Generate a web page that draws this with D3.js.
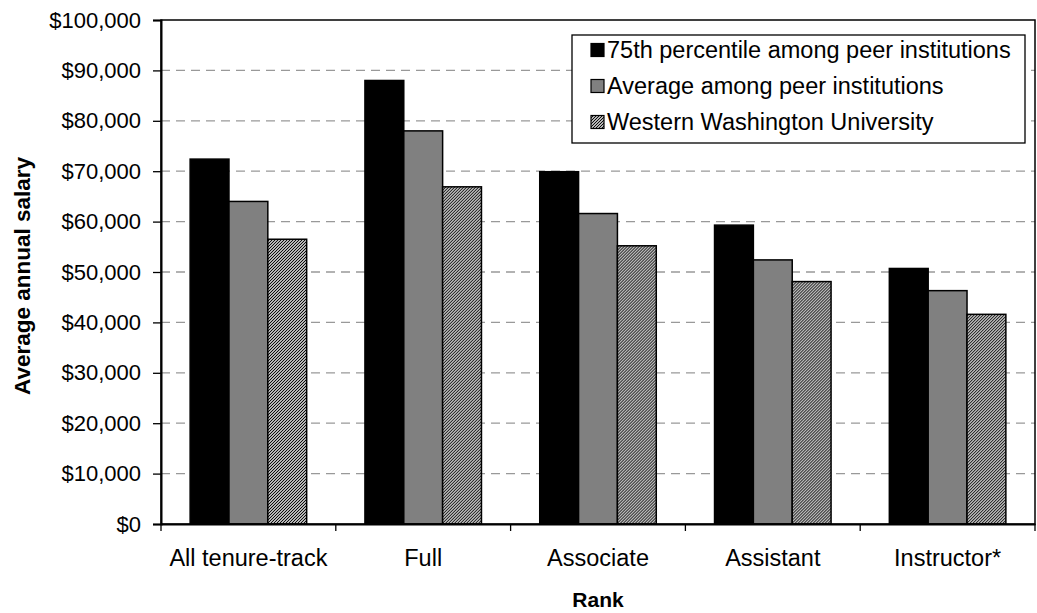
<!DOCTYPE html>
<html>
<head>
<meta charset="utf-8">
<script src="https://cdn.jsdelivr.net/npm/d3@7"></script>
<style>
  html, body { margin: 0; padding: 0; background: #fff; }
  svg { display: block; font-family: "Liberation Sans", Arial, sans-serif; }
</style>
</head>
<body>
<svg id="chart" width="1037" height="613"></svg>
<script>
// Faculty salary comparison by rank
const categories = ["All tenure-track", "Full", "Associate", "Assistant", "Instructor*"];
const seriesNames = [
  "75th percentile among peer institutions",
  "Average among peer institutions",
  "Western Washington University"
];
const pct75Values   = [72400, 88000, 69900, 59300, 50700];
const averageValues = [64000, 78000, 61600, 52400, 46300];
const wwuValues     = [56500, 66900, 55200, 48100, 41600];
const yTicks = [0, 10000, 20000, 30000, 40000, 50000, 60000, 70000, 80000, 90000, 100000];

const seriesValues = [pct75Values, averageValues, wwuValues];
const fills = ["#000000", "#808080", "url(#hatch)"];

const svg = d3.select("#chart");
const plot = { left: 161, right: 1035, top: 20, bottom: 524 };

// fine diagonal hatch used for the WWU series
const defs = svg.append("defs");
const pat = defs.append("pattern")
  .attr("id", "hatch")
  .attr("patternUnits", "userSpaceOnUse")
  .attr("width", 3).attr("height", 3);
pat.append("rect").attr("width", 3).attr("height", 3).attr("fill", "#fff");
pat.append("path")
  .attr("d", "M-1,1 l2,-2 M0,3 l3,-3 M2,4 l2,-2")
  .attr("stroke", "#000").attr("stroke-width", 1.1);

const x = d3.scaleBand().domain(categories).range([plot.left, plot.right]).padding(0);
const xs = d3.scaleBand().domain(d3.range(seriesNames.length))
  .range([0, x.bandwidth()]).paddingInner(0).paddingOuter(0.75);
const y = d3.scaleLinear().domain([0, 100000]).range([plot.bottom, plot.top]);

// dashed gridlines
svg.append("g")
  .selectAll("line")
  .data(yTicks.filter(t => t > 0 && t < 100000))
  .join("line")
  .attr("x1", plot.left).attr("x2", plot.right)
  .attr("y1", d => y(d)).attr("y2", d => y(d))
  .attr("stroke", "#999").attr("stroke-width", 1.3)
  .attr("stroke-dasharray", "9,6");

// bars
const groups = svg.append("g")
  .selectAll("g")
  .data(categories)
  .join("g")
  .attr("transform", c => `translate(${x(c)},0)`);

groups.selectAll("rect")
  .data((c, i) => seriesValues.map((vals, s) => ({ s, v: vals[i] })))
  .join("rect")
  .attr("x", d => xs(d.s))
  .attr("width", xs.bandwidth())
  .attr("y", d => y(d.v))
  .attr("height", d => y(0) - y(d.v))
  .attr("fill", d => fills[d.s])
  .attr("stroke", "#000")
  .attr("stroke-width", 1.5);

// plot frame
svg.append("rect")
  .attr("x", plot.left).attr("y", plot.top)
  .attr("width", plot.right - plot.left).attr("height", plot.bottom - plot.top)
  .attr("fill", "none").attr("stroke", "#000").attr("stroke-width", 1.5);

// y axis
const yAxis = svg.append("g")
  .attr("transform", `translate(${plot.left},0)`)
  .call(d3.axisLeft(y).tickValues(yTicks).tickFormat(d3.format("$,")).tickSize(8).tickPadding(12));
yAxis.select(".domain").attr("stroke", "#000").attr("stroke-width", 2);
yAxis.selectAll(".tick line").attr("stroke", "#000").attr("stroke-width", 1.3);
yAxis.selectAll(".tick text")
  .attr("font-size", 22).attr("fill", "#000")
  .attr("font-family", "'Liberation Sans', Arial, sans-serif");

// x axis
const xAxis = svg.append("g")
  .attr("transform", `translate(0,${plot.bottom})`)
  .call(d3.axisBottom(x).tickSize(0).tickPadding(25));
xAxis.select(".domain").attr("stroke", "#000").attr("stroke-width", 2);
xAxis.selectAll(".tick text")
  .attr("font-size", 23.5).attr("fill", "#000")
  .attr("font-family", "'Liberation Sans', Arial, sans-serif");

// category boundary ticks
const bounds = categories.map(c => x(c)).concat([plot.right]);
svg.append("g")
  .selectAll("line")
  .data(bounds)
  .join("line")
  .attr("x1", d => d).attr("x2", d => d)
  .attr("y1", plot.bottom).attr("y2", plot.bottom + 7)
  .attr("stroke", "#000").attr("stroke-width", 1.3);

// axis titles
svg.append("text")
  .attr("transform", `translate(30,${(plot.top + plot.bottom) / 2 + 4}) rotate(-90)`)
  .attr("text-anchor", "middle")
  .attr("font-size", 22.5).attr("font-weight", "bold")
  .text("Average annual salary");

svg.append("text")
  .attr("x", (plot.left + plot.right) / 2).attr("y", 607)
  .attr("text-anchor", "middle")
  .attr("font-size", 21).attr("font-weight", "bold")
  .text("Rank");

// legend
const legend = svg.append("g").attr("transform", "translate(572,35)");
legend.append("rect")
  .attr("width", 453).attr("height", 108)
  .attr("fill", "#fff").attr("stroke", "#000").attr("stroke-width", 1.3);
const rows = legend.selectAll("g.row")
  .data(seriesNames)
  .join("g")
  .attr("class", "row")
  .attr("transform", (d, i) => `translate(0,${15 + i * 36})`);
rows.append("rect")
  .attr("x", 19).attr("y", -6.5)
  .attr("width", 13).attr("height", 13)
  .attr("fill", (d, i) => fills[i])
  .attr("stroke", "#000").attr("stroke-width", 1.2);
rows.append("text")
  .attr("x", 35).attr("y", 8)
  .attr("font-size", 23.5)
  .text(d => d);
</script>
</body>
</html>
